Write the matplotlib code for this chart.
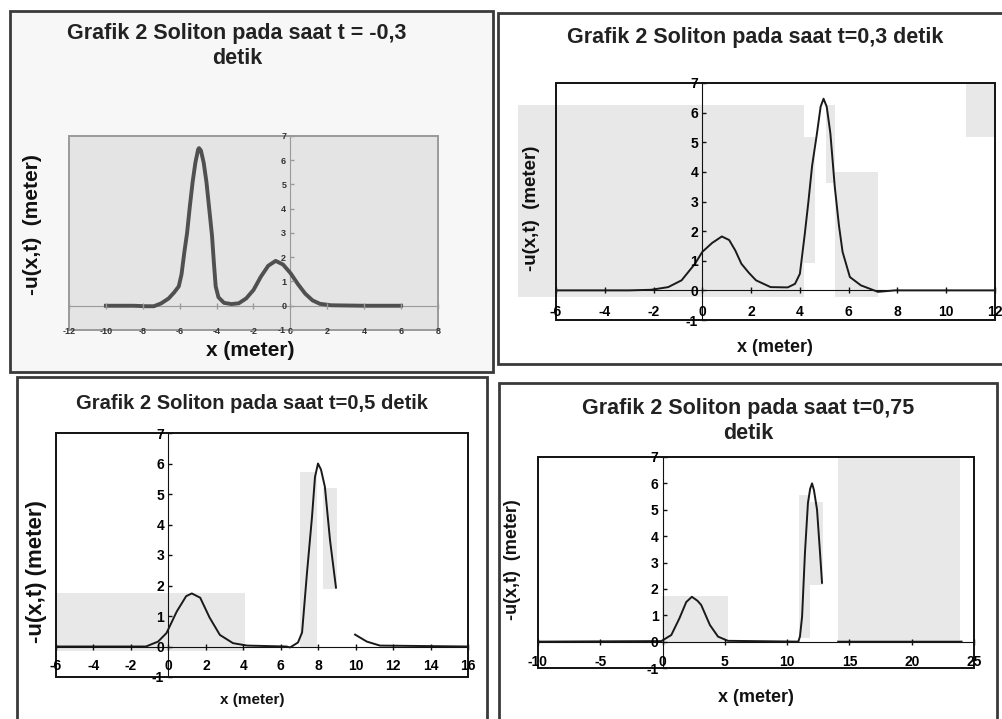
import numpy as np
import matplotlib
matplotlib.use("Agg")
import matplotlib.pyplot as plt
from matplotlib.patches import Rectangle

plt.rcParams["font.family"] = ["Liberation Sans", "DejaVu Sans"]
plt.rcParams["font.weight"] = "bold"

W, H = 1003, 719
nan = np.nan

# --- data ---
judul = [
    "Grafik 2 Soliton pada saat t = -0,3\ndetik",
    "Grafik 2 Soliton pada saat t=0,3 detik",
    "Grafik 2 Soliton pada saat t=0,5 detik",
    "Grafik 2 Soliton pada saat t=0,75\ndetik",
]
label_y = ["-u(x,t)  (meter)", "-u(x,t)  (meter)", "-u(x,t) (meter)", "-u(x,t)  (meter)"]
label_x = "x (meter)"

x_t1 = [-10, -8.5, -7.8, -7.4, -7.0, -6.6, -6.3, -6.05, -5.9, -5.75, -5.6, -5.45, -5.3, -5.15,
        -5.0, -4.95, -4.85, -4.7, -4.55, -4.4, -4.25, -4.15, -4.05, -3.9, -3.6, -3.2, -2.8,
        -2.4, -2.0, -1.6, -1.2, -0.8, -0.4, 0, 0.4, 0.8, 1.2, 1.6, 2.2, 4, 6]
u_t1 = [0, 0, -0.02, -0.02, 0.1, 0.3, 0.55, 0.8, 1.3, 2.2, 3.0, 4.1, 5.1, 5.9,
        6.45, 6.5, 6.4, 5.9, 5.1, 4.0, 2.9, 1.8, 0.8, 0.35, 0.12, 0.07, 0.1,
        0.3, 0.65, 1.2, 1.65, 1.85, 1.7, 1.35, 0.9, 0.5, 0.22, 0.08, 0.02, 0, 0]

x_t2 = [-6, -3, -2.1, -1.4, -0.85, -0.3, 0, 0.4, 0.8, 1.1, 1.35, 1.6, 1.9, 2.2, 2.8, 3.5,
        3.8, 4.0, 4.2, 4.35, 4.5, 4.7, 4.85, 4.97, 5.1, 5.25, 5.43, 5.6, 5.75, 6.05, 6.5,
        7.2, 7.9, 12]
u_t2 = [0, 0, 0.02, 0.11, 0.34, 0.9, 1.3, 1.6, 1.82, 1.7, 1.35, 0.9, 0.6, 0.34, 0.11, 0.1,
        0.22, 0.56, 1.9, 3.0, 4.2, 5.3, 6.2, 6.47, 6.2, 5.3, 3.5, 2.2, 1.3, 0.45, 0.17,
        -0.05, 0, 0]

x_t3 = [-6, -1.2, -0.55, -0.1, 0.45, 0.95, 1.25, 1.7, 2.2, 2.75, 3.45, 4.2, 6.3, 6.5, 6.92,
        7.14, 7.4, 7.67, 7.83, 7.99, 8.15, 8.36, 8.63, 8.95, 9.3, 9.97, 10.6, 11.3, 16]
u_t3 = [0, 0, 0.16, 0.44, 1.15, 1.65, 1.74, 1.6, 0.95, 0.38, 0.11, 0.03, 0, -0.03, 0.13,
        0.46, 2.4, 4.25, 5.56, 6.0, 5.8, 5.23, 3.5, 1.93, nan, 0.39, 0.16, 0.03, 0]

x_t4 = [-10, -0.1, 0.7, 1.35, 1.9, 2.35, 2.8, 3.1, 3.8, 4.45, 5.25, 10.9, 11.03, 11.2, 11.43,
        11.67, 11.85, 12.0, 12.15, 12.4, 12.64, 12.8, 13.5, 14.1, 24]
u_t4 = [0, 0.02, 0.25, 0.88, 1.5, 1.7, 1.55, 1.39, 0.63, 0.19, 0.03, 0, 0.2, 0.95, 3.37,
        5.26, 5.8, 6.0, 5.75, 5.0, 3.37, 2.23, nan, 0, 0]

data = [(x_t1, u_t1), (x_t2, u_t2), (x_t3, u_t3), (x_t4, u_t4)]
x_ticks = [np.arange(-12, 9, 2), np.arange(-6, 13, 2), np.arange(-6, 17, 2), np.arange(-10, 26, 5)]
y_ticks = np.arange(-1, 8, 1)


def fr(l, t, r, b):
    return [l / W, 1 - b / H, (r - l) / W, (b - t) / H]


# layout in pixels of the scanned page (frame, plot area, title, labels)
panels = [
    dict(frame=(10, 11, 493, 372), face="#f7f7f7", plot=(69, 136, 438, 330), xlim=(-12, 8),
         title=(237, 46, 15.5), xl=(250, 350, 15), yl=(33, 225, 15), tick=6.5, tick_y=332,
         line=("#505050", 2.8), box="#9a9a9a", fill="#e4e4e4"),
    dict(frame=(498, 13, 1012, 364), face="white", plot=(556, 83, 995, 320), xlim=(-6, 12),
         title=(755, 37, 15.5), xl=(775, 348, 13), yl=(532, 208, 13.5), tick=10, tick_y=313,
         line=("#1a1a1a", 1.4), box="#111111", fill="white"),
    dict(frame=(17, 377, 487, 730), face="white", plot=(56, 433, 468, 677), xlim=(-6, 16),
         title=(252, 403, 14.5), xl=(252, 700, 11), yl=(37, 572, 16), tick=10, tick_y=667,
         line=("#1a1a1a", 1.4), box="#111111", fill="white"),
    dict(frame=(499, 383, 997, 730), face="white", plot=(538, 457, 974, 668), xlim=(-10, 25),
         title=(748, 421, 15.5), xl=(756, 697, 13), yl=(513, 560, 13), tick=10, tick_y=663,
         line=("#1a1a1a", 1.4), box="#111111", fill="white"),
]

# light grey blotches left by the scan (x0, x1, y0, y1 in data units)
blotches = [
    [],
    [(-7.56, 4.17, -0.24, 6.26), (4.17, 4.62, 0.91, 5.17), (5.07, 5.44, 3.62, 6.26),
     (5.44, 7.2, -0.24, 3.99), (10.8, 12, 5.17, 7)],
    [(-6, 4.09, -0.16, 1.75), (7.03, 7.94, 0, 5.72), (8.26, 9.0, 1.9, 5.2)],
    [(-0.05, 5.25, 0, 1.74), (10.95, 11.83, 0.15, 5.56), (11.83, 12.88, 2.16, 5.3),
     (14.08, 23.9, 0.08, 7)],
]

fig = plt.figure(figsize=(W / 100, H / 100), dpi=100)
fig.patch.set_facecolor("white")

for i, p in enumerate(panels):
    l, t, r, b = p["frame"]
    fig.add_artist(Rectangle((l / W, 1 - b / H), (r - l) / W, (b - t) / H,
                             transform=fig.transFigure, facecolor=p["face"],
                             edgecolor="#3a3a3a", linewidth=2, zorder=0))

    ax = fig.add_axes(fr(*p["plot"]))
    ax.set_facecolor(p["fill"])
    ax.set_xlim(*p["xlim"])
    ax.set_ylim(-1, 7)
    for x0, x1, y0, y1 in blotches[i]:
        ax.add_patch(Rectangle((x0, y0), x1 - x0, y1 - y0, facecolor="#e8e8e8",
                               edgecolor="none", clip_on=False, zorder=0.5))
    # plot-area border, kept under the tick labels
    ax.add_patch(Rectangle((0, 0), 1, 1, transform=ax.transAxes, fill=False,
                           edgecolor=p["box"], linewidth=1.4, clip_on=False, zorder=1))

    xs, us = data[i]
    ax.plot(xs, us, color=p["line"][0], linewidth=p["line"][1], zorder=4,
            solid_joinstyle="round")

    for s in ["top", "right"]:
        ax.spines[s].set_visible(False)
    ax.spines["left"].set_position(("data", 0))
    ax.spines["bottom"].set_position(("data", 0))
    ax.spines["left"].set_color(p["box"])
    ax.spines["bottom"].set_color(p["box"])
    ax.spines["left"].set_zorder(3)
    ax.spines["bottom"].set_zorder(3)

    ax.set_xticks(x_ticks[i])
    ax.set_yticks(y_ticks)
    ax.set_xticklabels([str(v) for v in x_ticks[i]])
    ax.set_yticklabels([str(v) for v in y_ticks])
    ax.xaxis.set_zorder(5)
    ax.yaxis.set_zorder(5)

    # x labels sit well below the y=0 axis line, as in the Excel charts
    y0_px = p["plot"][1] + (p["plot"][3] - p["plot"][1]) * 7 / 8
    em_px = p["tick"] / 0.72
    pad_px = p["tick_y"] - y0_px - 0.55 * em_px - 2.8
    ax.tick_params(axis="x", direction="inout", length=4, width=1, color=p["box"],
                   labelsize=p["tick"], pad=max(pad_px, 1) * 0.72)
    ax.tick_params(axis="y", direction="in", length=3, width=1, color=p["box"],
                   labelsize=p["tick"], pad=3)
    for lab in ax.get_xticklabels() + ax.get_yticklabels():
        lab.set_fontweight("bold")
        lab.set_color("#333333" if i == 0 else "black")

    tx, ty, ts = p["title"]
    fig.text(tx / W, 1 - ty / H, judul[i], ha="center", va="center", fontsize=ts,
             fontweight="bold", color="#222222", linespacing=1.2)
    xx, xy, xs_ = p["xl"]
    fig.text(xx / W, 1 - xy / H, label_x, ha="center", va="center", fontsize=xs_,
             fontweight="bold", color="#111111")
    yx, yy, ys = p["yl"]
    fig.text(yx / W, 1 - yy / H, label_y[i], ha="center", va="center", fontsize=ys,
             fontweight="bold", rotation=90, color="#111111")

fig.savefig("out.png", dpi=100, facecolor=fig.get_facecolor())
